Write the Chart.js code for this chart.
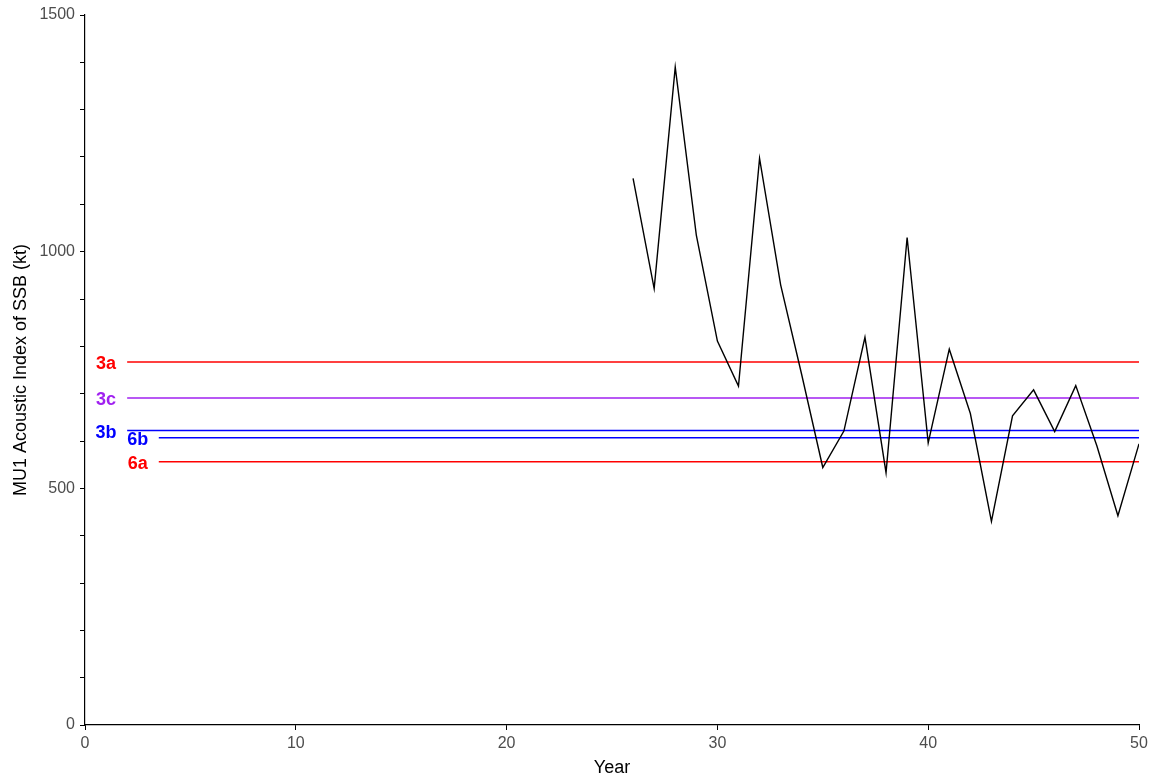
<!DOCTYPE html>
<html>
<head>
<meta charset="utf-8">
<script src="https://cdn.jsdelivr.net/npm/chart.js@4"></script>
<style>
  html, body { margin: 0; padding: 0; background: #fff; }
  #wrap { width: 1156px; height: 779px; }
</style>
</head>
<body>
<div id="wrap"><canvas id="ssbChart"></canvas></div>
<script>
// acoustic index series
const years = [26, 27, 28, 29, 30, 31, 32, 33, 34, 35, 36, 37, 38, 39, 40, 41, 42, 43, 44, 45, 46, 47, 48, 49, 50];
const ssbIndex = [1155, 922, 1390, 1035, 811, 716, 1197, 930, 740, 544, 621, 819, 533, 1030, 596, 794, 658, 430, 653, 708, 620, 717, 590, 442, 594];

// reference levels
const refNames = ['3a', '3c', '3b', '6b', '6a'];
const refValues = [767, 691, 622, 607, 556];
const refStart = [2, 2, 2, 3.5, 3.5];
const refLabelX = [1, 1, 1, 2.5, 2.5];
const refColors = ['#ff0000', '#a020f0', '#0000ff', '#0000ff', '#ff0000'];

const yTicksLabelled = [0, 500, 1000, 1500];

const datasets = [{
  label: 'SSB',
  data: years.map((yr, i) => ({ x: yr, y: ssbIndex[i] })),
  borderColor: '#000',
  borderWidth: 1.4,
  pointRadius: 0,
  tension: 0
}];

refNames.forEach((name, i) => {
  datasets.push({
    label: name,
    data: [{ x: refStart[i], y: refValues[i] }, { x: 50, y: refValues[i] }],
    borderColor: refColors[i],
    borderWidth: 1.5,
    pointRadius: 0
  });
});

// text labels for the reference lines
const refLabelPlugin = {
  id: 'refLabels',
  afterDatasetsDraw(chart) {
    const ctx = chart.ctx;
    const xs = chart.scales.x, ys = chart.scales.y;
    ctx.save();
    ctx.font = 'bold 18px "Liberation Sans", Arial, sans-serif';
    ctx.textAlign = 'center';
    ctx.textBaseline = 'middle';
    refNames.forEach((name, i) => {
      ctx.fillStyle = refColors[i];
      ctx.fillText(name, xs.getPixelForValue(refLabelX[i]), ys.getPixelForValue(refValues[i]) + 2);
    });
    ctx.restore();
  }
};

const tickFont = { family: '"Liberation Sans", Arial', size: 16 };
const titleFont = { family: '"Liberation Sans", Arial', size: 18 };

const ctx = document.getElementById('ssbChart').getContext('2d');
new Chart(ctx, {
  type: 'line',
  data: { datasets: datasets },
  plugins: [refLabelPlugin],
  options: {
    responsive: true,
    maintainAspectRatio: false,
    animation: false,
    layout: { padding: { top: 15, right: 17, left: 0, bottom: 0 } },
    plugins: { legend: { display: false }, tooltip: { enabled: false } },
    scales: {
      x: {
        type: 'linear',
        min: 0,
        max: 50,
        ticks: { stepSize: 10, color: '#4d4d4d', font: tickFont, padding: 4, maxRotation: 0 },
        grid: { drawOnChartArea: false, drawTicks: true, tickLength: 5, color: '#000' },
        border: { display: true, color: '#000', width: 1.2 },
        title: { display: true, text: 'Year', color: '#000', font: titleFont, padding: { top: 0, bottom: 0 } },
        afterFit(scale) { scale.height = 54; }
      },
      y: {
        type: 'linear',
        min: 0,
        max: 1500,
        ticks: {
          stepSize: 100,
          autoSkip: false,
          color: '#4d4d4d',
          font: tickFont,
          padding: 5,
          callback: v => yTicksLabelled.includes(v) ? String(v) : ''
        },
        grid: { drawOnChartArea: false, drawTicks: true, tickLength: 5, color: '#000' },
        border: { display: true, color: '#000', width: 1.2 },
        title: { display: true, text: 'MU1 Acoustic Index of SSB (kt)', color: '#000', font: titleFont, padding: { top: 10, bottom: 4 } },
        afterFit(scale) { scale.width = 85; }
      }
    }
  }
});
</script>
</body>
</html>
